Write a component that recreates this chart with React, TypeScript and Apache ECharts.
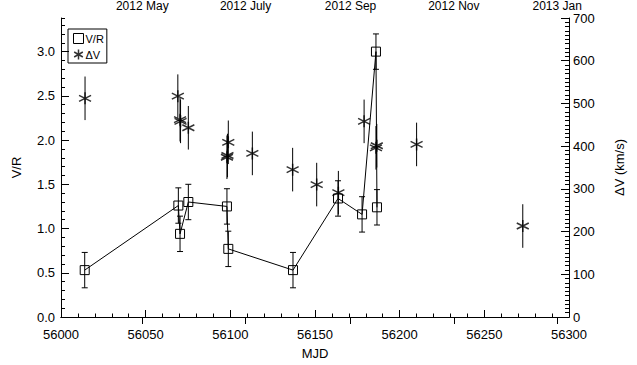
import React, { useEffect, useRef } from 'react';
import * as echarts from 'echarts';

// V/R measurements
const vrMJD = [56014, 56069.3, 56070.3, 56075.2, 56098, 56098.8, 56137, 56163.6, 56177.8, 56186, 56186.6];
const vrValue = [0.53, 1.26, 0.94, 1.30, 1.25, 0.77, 0.53, 1.34, 1.16, 3.0, 1.24];
const vrErr = [0.2, 0.2, 0.2, 0.2, 0.2, 0.2, 0.2, 0.2, 0.2, 0.2, 0.2];

// Delta V measurements (km/s)
const dvMJD = [56014.2, 56069, 56070.3, 56070.6, 56075.2, 56098.8, 56098, 56098.3, 56113, 56136.8, 56151, 56163.8, 56179, 56186, 56186.5, 56210, 56272.7];
const dvValue = [512, 517, 462, 458, 443, 409, 374, 378, 383, 345, 310, 291, 458, 396, 401, 404, 213];
const dvErr = [51, 51, 51, 51, 51, 51, 51, 51, 51, 51, 51, 51, 51, 51, 51, 51, 51];

// Axes
const mjdRange = [56000, 56300];
const vrRange = [0, 3.38];
const dvRange = [0, 700];
const topTickMJD = [56048, 56109, 56171, 56232, 56293];
const topTickLabels = ['2012 May', '2012 July', '2012 Sep', '2012 Nov', '2013 Jan'];

const FONT = 'Liberation Sans';
const ASTERISK = 'path://M5,0L5,10M0.67,2.5L9.33,7.5M0.67,7.5L9.33,2.5';

function errRender(caps: boolean) {
  return (params: any, api: any) => {
    const x = api.value(0);
    const p1 = api.coord([x, api.value(1)]);
    const p2 = api.coord([x, api.value(2)]);
    const st = { stroke: '#000', lineWidth: 1 };
    const children: any[] = [
      { type: 'line', shape: { x1: p1[0], y1: p1[1], x2: p2[0], y2: p2[1] }, style: st },
    ];
    if (caps) {
      children.push({ type: 'line', shape: { x1: p1[0] - 3, y1: p1[1], x2: p1[0] + 3, y2: p1[1] }, style: st });
      children.push({ type: 'line', shape: { x1: p2[0] - 3, y1: p2[1], x2: p2[0] + 3, y2: p2[1] }, style: st });
    }
    return { type: 'group', children };
  };
}

export default function App() {
  const ref = useRef<HTMLDivElement>(null);
  useEffect(() => {
    if (!ref.current) return;
    const chart = echarts.init(ref.current, null, { renderer: 'svg' });
    const axisLine = { show: true, lineStyle: { color: '#000', width: 1 } };
    const label = { color: '#000', fontFamily: FONT, fontSize: 13 };
    const nameStyle = { color: '#000', fontFamily: FONT, fontSize: 13 };
    chart.setOption({
      animation: false,
      backgroundColor: '#fff',
      textStyle: { fontFamily: FONT, color: '#000' },
      grid: { left: 61, right: 68, top: 18, bottom: 44 },
      legend: {
        left: 68,
        top: 29,
        orient: 'vertical',
        selectedMode: false,
        borderColor: '#000',
        borderWidth: 1,
        borderRadius: 0,
        padding: [2, 3, 1, 3],
        itemGap: 1,
        itemWidth: 10,
        itemHeight: 10,
        textStyle: { color: '#000', fontFamily: FONT, fontSize: 11, lineHeight: 12, padding: [0, 0, 0, -3] },
        data: [
          { name: 'V/R', icon: 'rect', itemStyle: { color: 'none', borderColor: '#000', borderWidth: 1 } },
          { name: 'ΔV', icon: ASTERISK, itemStyle: { color: 'none', borderColor: '#000', borderWidth: 1.5 } },
        ],
      },
      xAxis: [
        {
          type: 'value',
          position: 'bottom',
          min: mjdRange[0],
          max: mjdRange[1],
          interval: 50,
          axisLine,
          axisTick: { inside: true, length: 7, lineStyle: { color: '#000' } },
          minorTick: { show: true, splitNumber: 5, length: 3.5, lineStyle: { color: '#000' } },
          splitLine: { show: false },
          axisLabel: { ...label, margin: 11, formatter: (v: number) => String(v) },
          name: 'MJD',
          nameLocation: 'middle',
          nameGap: 30,
          nameTextStyle: nameStyle,
        },
        {
          type: 'value',
          position: 'top',
          min: mjdRange[0],
          max: mjdRange[1],
          axisLine,
          axisTick: { show: true, inside: true, length: 7, customValues: topTickMJD, lineStyle: { color: '#000' } },
          splitLine: { show: false },
          axisLabel: {
            ...label,
            fontSize: 12,
            lineHeight: 12,
            margin: 6,
            customValues: topTickMJD,
            formatter: (v: number) => {
              const i = topTickMJD.indexOf(v);
              return i >= 0 ? topTickLabels[i] : '';
            },
          },
        },
      ],
      yAxis: [
        {
          type: 'value',
          position: 'left',
          min: vrRange[0],
          max: vrRange[1],
          interval: 0.5,
          axisLine,
          axisTick: { inside: true, length: 8, lineStyle: { color: '#000' } },
          splitLine: { show: false },
          axisLabel: { ...label, margin: 6, showMaxLabel: false, formatter: (v: number) => v.toFixed(1) },
          name: 'V/R',
          nameLocation: 'middle',
          nameGap: 38,
          nameRotate: 90,
          nameTextStyle: nameStyle,
        },
        {
          type: 'value',
          position: 'right',
          min: dvRange[0],
          max: dvRange[1],
          interval: 100,
          axisLine,
          axisTick: { inside: true, length: 8, lineStyle: { color: '#000' } },
          minorTick: { show: true, splitNumber: 10, length: 4, lineStyle: { color: '#000' } },
          splitLine: { show: false },
          axisLabel: { ...label, lineHeight: 12, margin: 4 },
          name: 'ΔV (km/s)',
          nameLocation: 'middle',
          nameGap: 44,
          nameRotate: 90,
          nameTextStyle: nameStyle,
        },
        {
          type: 'value',
          position: 'left',
          min: vrRange[0],
          max: vrRange[1],
          interval: 0.1,
          axisLine: { show: false },
          axisTick: { inside: true, length: 4, lineStyle: { color: '#000' } },
          splitLine: { show: false },
          axisLabel: { show: false },
        },
      ],
      series: [
        {
          type: 'custom',
          name: 'vrErr',
          xAxisIndex: 0,
          yAxisIndex: 0,
          silent: true,
          z: 1,
          encode: { x: 0, y: [1, 2] },
          data: vrMJD.map((m, i) => [m, vrValue[i] - vrErr[i], vrValue[i] + vrErr[i]]),
          renderItem: errRender(true),
        },
        {
          type: 'custom',
          name: 'dvErr',
          xAxisIndex: 0,
          yAxisIndex: 1,
          silent: true,
          z: 1,
          encode: { x: 0, y: [1, 2] },
          data: dvMJD.map((m, i) => [m, dvValue[i] - dvErr[i], dvValue[i] + dvErr[i]]),
          renderItem: errRender(false),
        },
        {
          type: 'line',
          name: 'V/R',
          xAxisIndex: 0,
          yAxisIndex: 0,
          z: 3,
          symbol: 'rect',
          symbolSize: 9,
          showAllSymbol: true,
          itemStyle: { color: 'none', borderColor: '#000', borderWidth: 1 },
          lineStyle: { color: '#000', width: 1 },
          data: vrMJD.map((m, i) => [m, vrValue[i]]),
        },
        {
          type: 'scatter',
          name: 'ΔV',
          xAxisIndex: 0,
          yAxisIndex: 1,
          z: 3,
          symbol: ASTERISK,
          symbolSize: 12,
          itemStyle: { color: 'none', borderColor: '#000', borderWidth: 1.5 },
          data: dvMJD.map((m, i) => [m, dvValue[i]]),
        },
      ],
    });
    return () => chart.dispose();
  }, []);
  return (
    <div
      ref={ref}
      style={{ position: 'fixed', left: 0, top: 0, width: 637, height: 365, background: '#fff' }}
    />
  );
}
